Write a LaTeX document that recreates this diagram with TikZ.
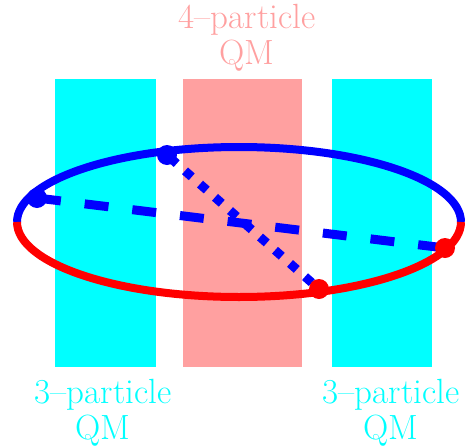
\documentclass[tikz,border=0pt]{standalone}
\usetikzlibrary{positioning,backgrounds}
\definecolor{cCyan}{HTML}{00FFFF}
\definecolor{cPink}{HTML}{FFA0A0}
\definecolor{cBlue}{HTML}{0000FF}
\definecolor{cRed}{HTML}{FF0000}

\begin{document}
\begin{tikzpicture}[
  x=1pt,y=-1pt,
  band/.style={minimum width=#1,minimum height=288pt,inner sep=0pt,outer sep=0pt},
  lbl/.style={font=\fontsize{35}{36}\selectfont,align=center,inner sep=0pt},
  orbit/.style={line width=8pt},
  vtx/.style={circle,inner sep=0pt,minimum size=20pt},
  jump/.style={cBlue,line width=9pt}
]
\useasboundingbox (0,0) rectangle (467,448);
\begin{scope}[on background layer]
  \node[band=101pt,fill=cCyan] (lb) at (105.5,223) {};
  \node[band=119pt,fill=cPink] (mb) at (242.5,223) {};
  \node[band=100pt,fill=cCyan] (rb) at (382,223) {};
\end{scope}
\node[lbl,text=cPink,above=7pt of mb,xshift=4.5pt] (tmid) {4–particle\\QM};
\node[lbl,text=cCyan,below=12pt of lb,xshift=-2.5pt] (tleft) {3–particle\\QM};
\node[lbl,text=cCyan,below=12pt of rb,xshift=9pt] (tright) {3–particle\\QM};
% the two halves of the orbit
\draw[orbit,cBlue] (17,222) arc[start angle=180,end angle=360,x radius=222,y radius=75];
\draw[orbit,cRed] (17,222) arc[start angle=180,end angle=0,x radius=222,y radius=75];
\node[vtx,fill=cBlue] (pl) at (37,198) {};
\node[vtx,fill=cBlue] (pt) at (167,155) {};
\node[vtx,fill=cRed] (pb) at (319,289) {};
\node[vtx,fill=cRed] (pr) at (445,248) {};
\begin{scope}[on background layer]
  \draw[jump,dash pattern=on 24pt off 24pt] (pl.center) -- (pr.center);
  \draw[jump,dash pattern=on 9pt off 11pt,dash phase=16pt] (pt.center) -- (pb.center);
\end{scope}
\end{tikzpicture}
\end{document}
